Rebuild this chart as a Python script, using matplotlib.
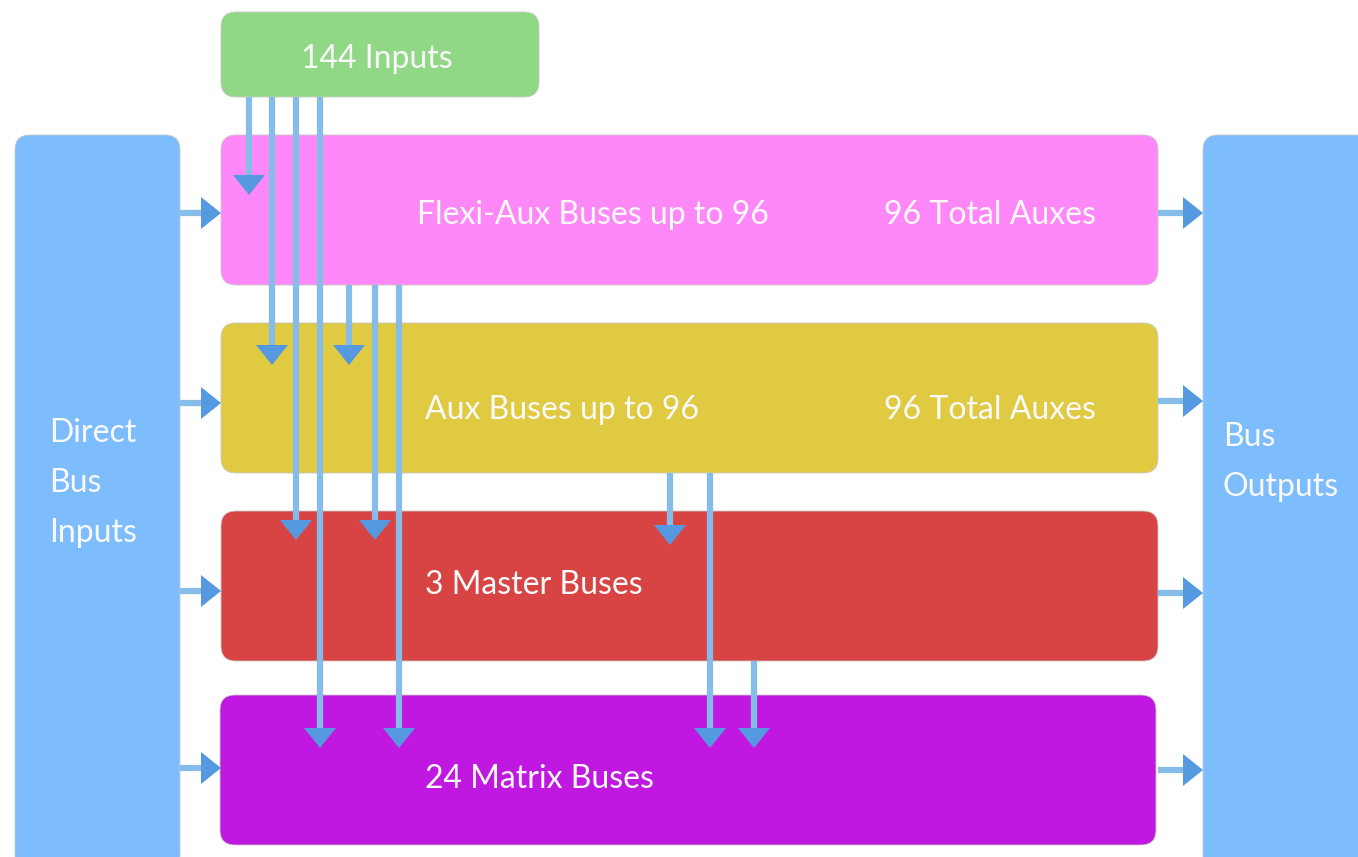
import matplotlib
matplotlib.use("Agg")
import matplotlib.pyplot as plt
from matplotlib.patches import FancyBboxPatch, Polygon

plt.rcParams['font.family'] = ['Lato', 'DejaVu Sans']

# boxes: (x0, y0, x1, y1) in pixels, y going down
box_names = ["inputs", "direct", "outputs", "flexi", "aux", "master", "matrix"]
box_rects = [(221, 12, 539, 97), (15, 135, 180, 870), (1203, 135, 1370, 870),
             (221, 135, 1158, 285), (221, 323, 1158, 473),
             (221, 511, 1158, 661), (220, 695, 1156, 845)]
box_colors = ["#90d885", "#7dbcfd", "#7dbcfd", "#ff88f8", "#e0ca42", "#d84444", "#c018e0"]

# labels: (text, x, y of first line, ha)
labels = [("144 Inputs", 377, 57, "center"),
          ("Flexi-Aux Buses up to 96", 417, 213, "left"),
          ("96 Total Auxes", 884, 213, "left"),
          ("Aux Buses up to 96", 425, 408, "left"),
          ("96 Total Auxes", 884, 408, "left"),
          ("3 Master Buses", 425, 583, "left"),
          ("24 Matrix Buses", 425, 777, "left"),
          ("Direct\nBus\nInputs", 49, 431, "left"),
          ("Bus\nOutputs", 1223, 435, "left")]

# vertical arrows: x, start y, tip y
down_x = [249, 272, 296, 320, 349, 375, 399, 670, 710, 754]
down_y0 = [97, 97, 97, 97, 285, 285, 285, 473, 473, 661]
down_tip = [195, 365, 540, 748, 365, 540, 748, 545, 748, 748]

# horizontal arrows: start x, tip x, y
right_x0 = [180, 180, 180, 180, 1158, 1158, 1158, 1158]
right_tip = [221, 221, 221, 221, 1203, 1203, 1203, 1203]
right_y = [213, 403, 591, 768, 213, 401, 593, 770]

W, H = 1358, 857
fig = plt.figure(figsize=(W / 100, H / 100), dpi=100)
ax = fig.add_axes([0, 0, 1, 1])
ax.set_xlim(0, W)
ax.set_ylim(H, 0)
ax.axis("off")

for (x0, y0, x1, y1), c in zip(box_rects, box_colors):
    ax.add_patch(FancyBboxPatch((x0, y0), x1 - x0, y1 - y0,
                                boxstyle="round,pad=0,rounding_size=15",
                                fc=c, ec="#c8c8c8", lw=0.6, zorder=1))

line_c = "#85bde8"
head_c = "#5599e0"
hw, hl = 16, 20

for x, y0, yt in zip(down_x, down_y0, down_tip):
    ax.plot([x, x], [y0, yt - hl], color=line_c, lw=4.5, solid_capstyle="butt", zorder=2)
    ax.add_patch(Polygon([(x - hw, yt - hl), (x + hw, yt - hl), (x, yt)],
                         closed=True, fc=head_c, ec="none", zorder=3))

for x0, xt, y in zip(right_x0, right_tip, right_y):
    ax.plot([x0, xt - hl], [y, y], color=line_c, lw=4.5, solid_capstyle="butt", zorder=2)
    ax.add_patch(Polygon([(xt - hl, y - hw), (xt - hl, y + hw), (xt, y)],
                         closed=True, fc=head_c, ec="none", zorder=3))

for t, x, y, ha in labels:
    for i, line in enumerate(t.split("\n")):
        ax.text(x, y + 2 + 50 * i, line, ha=ha, va="center", color="#fafafa",
                fontsize=23, zorder=4)

fig.savefig("out.png", dpi=100)
